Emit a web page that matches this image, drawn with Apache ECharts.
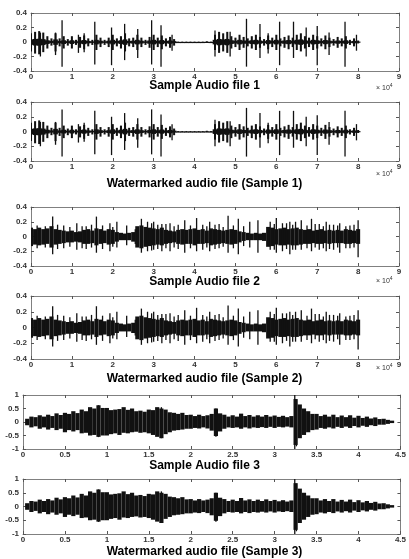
<!DOCTYPE html>
<html><head><meta charset="utf-8">
<script src="https://cdn.jsdelivr.net/npm/echarts@6/dist/echarts.min.js"></script>
<style>html,body{margin:0;padding:0;background:#fff}#c{width:409px;height:559px}</style>
</head><body><div id="c"></div>
<script>
// ---------- DATA ----------
const titles = ['Sample Audio file 1','Watermarked audio file (Sample 1)','Sample Audio file 2','Watermarked audio file (Sample 2)','Sample Audio file 3','Watermarked audio file (Sample 3)'];
const ticks1 = [-0.4,-0.2,0,0.2,0.4];
const xTicksA = [0,1,2,3,4,5,6,7,8,9];
const xTicksB = [0,0.5,1,1.5,2,2.5,3,3.5,4,4.5];
const ticks3 = [-1,-0.5,0,0.5,1];

// Sample 1 envelope, samples 0..8 (x10^4) every 0.1
const s1X0 = 0, s1Step = 0.1;
const s1Hi = [0.12,0.14,0.15,0.13,0.08,0.05,0.12,0.05,0.08,0.04,
 0.08,0.03,0.07,0.09,0.05,0.03,0.1,0.06,0.03,0.06,
 0.1,0.05,0.08,0.12,0.05,0.06,0.1,0.06,0.03,0.07,
 0.1,0.06,0.09,0.05,0.07,0.04,0.005,0.005,0.005,0.005,
 0.005,0.005,0.005,0.01,0.005,0.1,0.14,0.12,0.14,0.08,
 0.06,0.1,0.07,0.05,0.08,0.1,0.07,0.04,0.09,0.06,
 0.1,0.05,0.07,0.09,0.06,0.1,0.12,0.08,0.06,0.1,
 0.08,0.05,0.09,0.06,0.04,0.07,0.05,0.08,0.03,0.05,0.02];
const s1Lo = [-0.13,-0.16,-0.17,-0.14,-0.09,-0.05,-0.13,-0.06,-0.09,-0.05,
 -0.09,-0.04,-0.08,-0.1,-0.06,-0.04,-0.11,-0.07,-0.04,-0.07,
 -0.11,-0.06,-0.09,-0.13,-0.06,-0.07,-0.11,-0.07,-0.04,-0.08,
 -0.11,-0.07,-0.1,-0.06,-0.08,-0.05,-0.005,-0.005,-0.005,-0.005,
 -0.005,-0.005,-0.005,-0.01,-0.005,-0.11,-0.15,-0.13,-0.15,-0.09,
 -0.07,-0.11,-0.08,-0.06,-0.09,-0.11,-0.08,-0.05,-0.1,-0.07,
 -0.11,-0.06,-0.08,-0.1,-0.07,-0.11,-0.13,-0.09,-0.07,-0.11,
 -0.09,-0.06,-0.1,-0.07,-0.05,-0.08,-0.06,-0.09,-0.04,-0.06,-0.02];
const s1SpikeX  = [0.23,0.6,0.76,1.16,1.3,1.56,1.97,2.29,2.61,2.95,3.18,3.45,4.5,4.87,5.27,5.6,5.8,6.08,6.42,6.73,7.0,7.29,7.68,7.96];
const s1SpikeHi = [0.13,0.13,0.30,0.1,0.12,0.28,0.2,0.25,0.18,0.30,0.23,0.1,0.16,0.14,0.32,0.25,0.12,0.28,0.28,0.2,0.22,0.13,0.28,0.1];
const s1SpikeLo = [-0.2,-0.18,-0.34,-0.15,-0.14,-0.31,-0.32,-0.25,-0.22,-0.31,-0.34,-0.12,-0.2,-0.2,-0.34,-0.22,-0.16,-0.32,-0.22,-0.2,-0.32,-0.18,-0.34,-0.12];

// Sample 2 envelope, 0..8 every 0.1
const s2X0 = 0, s2Step = 0.1;
const s2Hi = [0.12,0.1,0.12,0.1,0.11,0.14,0.1,0.09,0.08,0.07,
 0.08,0.06,0.07,0.09,0.1,0.08,0.11,0.1,0.08,0.1,
 0.09,0.06,0.05,0.04,0.05,0.06,0.14,0.15,0.13,0.12,
 0.11,0.1,0.12,0.09,0.08,0.07,0.09,0.1,0.09,0.1,
 0.11,0.09,0.1,0.08,0.11,0.1,0.09,0.08,0.09,0.1,
 0.09,0.07,0.06,0.05,0.04,0.05,0.04,0.05,0.13,0.12,
 0.1,0.11,0.12,0.1,0.11,0.12,0.1,0.09,0.1,0.08,
 0.09,0.1,0.08,0.09,0.08,0.09,0.08,0.1,0.09,0.08,0.1];
const s2Lo = [-0.13,-0.11,-0.12,-0.11,-0.1,-0.15,-0.11,-0.1,-0.09,-0.08,
 -0.08,-0.07,-0.08,-0.1,-0.1,-0.09,-0.12,-0.1,-0.09,-0.11,
 -0.1,-0.07,-0.05,-0.05,-0.05,-0.07,-0.15,-0.16,-0.14,-0.13,
 -0.12,-0.11,-0.12,-0.1,-0.09,-0.08,-0.1,-0.11,-0.1,-0.1,
 -0.12,-0.1,-0.1,-0.09,-0.12,-0.11,-0.1,-0.09,-0.1,-0.11,
 -0.1,-0.08,-0.06,-0.05,-0.05,-0.05,-0.05,-0.06,-0.14,-0.13,
 -0.11,-0.12,-0.12,-0.11,-0.12,-0.12,-0.11,-0.1,-0.1,-0.09,
 -0.1,-0.1,-0.09,-0.1,-0.09,-0.09,-0.09,-0.1,-0.1,-0.09,-0.1];
const s2SpikeX  = [0.53,0.8,1.12,1.35,1.6,1.93,2.1,2.34,2.7,2.85,3.0,3.2,3.4,3.6,3.76,4.05,4.2,4.37,4.6,4.82,5.07,5.35,5.55,5.85,6.0,6.15,6.33,6.47,6.61,6.86,7.05,7.22,7.4,7.55,7.8,8.0,
 0.15,0.35,0.65,0.95,1.25,1.48,1.75,2.0,2.55,2.95,3.1,3.3,3.5,3.9,4.3,4.5,4.7,4.95,5.2,5.95,6.25,6.4,6.75,6.95,7.15,7.3,7.5,7.7,7.9];
const s2SpikeHi = [0.27,0.15,0.18,0.14,0.27,0.18,0.2,0.15,0.24,0.2,0.2,0.17,0.18,0.16,0.22,0.25,0.16,0.2,0.17,0.28,0.24,0.2,0.22,0.2,0.25,0.18,0.2,0.2,0.22,0.24,0.17,0.2,0.16,0.18,0.15,0.22,
 0.15,0.14,0.16,0.13,0.14,0.16,0.15,0.13,0.1,0.18,0.16,0.17,0.14,0.15,0.14,0.16,0.13,0.15,0.14,0.17,0.18,0.16,0.15,0.17,0.14,0.16,0.15,0.14,0.16];
const s2SpikeLo = [-0.24,-0.16,-0.18,-0.17,-0.22,-0.2,-0.15,-0.12,-0.22,-0.2,-0.18,-0.2,-0.2,-0.17,-0.22,-0.2,-0.18,-0.2,-0.16,-0.22,-0.24,-0.15,-0.22,-0.18,-0.22,-0.2,-0.24,-0.18,-0.18,-0.2,-0.18,-0.2,-0.18,-0.22,-0.16,-0.28,
 -0.16,-0.15,-0.17,-0.14,-0.16,-0.15,-0.17,-0.14,-0.1,-0.19,-0.17,-0.16,-0.15,-0.16,-0.15,-0.17,-0.14,-0.16,-0.13,-0.18,-0.17,-0.18,-0.16,-0.15,-0.16,-0.17,-0.15,-0.16,-0.15];

// Sample 3 envelope, 0.05..4.40 every 0.05
const s3X0 = 0.05, s3Step = 0.05;
const s3Hi = [0.12,0.2,0.18,0.25,0.2,0.27,0.22,0.32,0.26,0.34,
 0.3,0.4,0.33,0.46,0.4,0.55,0.5,0.62,0.52,0.52,
 0.44,0.46,0.48,0.55,0.45,0.5,0.4,0.42,0.38,0.46,
 0.44,0.55,0.5,0.46,0.36,0.34,0.3,0.34,0.26,0.27,
 0.22,0.27,0.22,0.25,0.3,0.5,0.32,0.27,0.2,0.25,
 0.2,0.31,0.22,0.26,0.2,0.25,0.2,0.26,0.2,0.24,
 0.19,0.23,0.18,0.22,0.85,0.65,0.5,0.4,0.3,0.3,
 0.22,0.27,0.2,0.27,0.18,0.24,0.18,0.25,0.16,0.23,
 0.15,0.2,0.13,0.17,0.11,0.12,0.08,0.05];
const s3Lo = [-0.12,-0.2,-0.16,-0.25,-0.2,-0.28,-0.22,-0.3,-0.25,-0.38,
 -0.3,-0.35,-0.3,-0.42,-0.4,-0.5,-0.48,-0.55,-0.5,-0.5,
 -0.45,-0.42,-0.48,-0.4,-0.42,-0.38,-0.36,-0.4,-0.38,-0.42,
 -0.48,-0.55,-0.6,-0.45,-0.38,-0.32,-0.3,-0.28,-0.25,-0.25,
 -0.22,-0.24,-0.2,-0.24,-0.32,-0.52,-0.35,-0.25,-0.2,-0.22,
 -0.2,-0.25,-0.2,-0.24,-0.2,-0.22,-0.19,-0.22,-0.18,-0.22,
 -0.18,-0.2,-0.17,-0.2,-0.85,-0.6,-0.48,-0.38,-0.3,-0.28,
 -0.22,-0.25,-0.2,-0.24,-0.18,-0.22,-0.17,-0.22,-0.15,-0.2,
 -0.14,-0.18,-0.12,-0.15,-0.1,-0.1,-0.07,-0.04];
const s3SpikeX  = [0.9,1.65,2.3,3.24,3.26];
const s3SpikeHi = [0.62,0.55,0.5,1.0,0.8];
const s3SpikeLo = [-0.56,-0.6,-0.55,-1.0,-0.9];

// ---------- BUILD ----------
const signals = {
  s1:{x0:s1X0,step:s1Step,hi:s1Hi,lo:s1Lo,sx:s1SpikeX,sh:s1SpikeHi,sl:s1SpikeLo},
  s2:{x0:s2X0,step:s2Step,hi:s2Hi,lo:s2Lo,sx:s2SpikeX,sh:s2SpikeHi,sl:s2SpikeLo},
  s3:{x0:s3X0,step:s3Step,hi:s3Hi,lo:s3Lo,sx:s3SpikeX,sh:s3SpikeHi,sl:s3SpikeLo}
};
const layout = [
  {sig:'s1',left:31,right:10,top:13,height:58,xt:xTicksA,yt:ticks1,ty:87,mult:88,ratio:0.5,core:0.3},
  {sig:'s1',left:31,right:10,top:102,height:59,xt:xTicksA,yt:ticks1,ty:185,mult:174,ratio:0.5,core:0.3},
  {sig:'s2',left:31,right:10,top:207,height:59,xt:xTicksA,yt:ticks1,ty:283,mult:281,ratio:1,core:0},
  {sig:'s2',left:31,right:10,top:296,height:63,xt:xTicksA,yt:ticks1,ty:380,mult:368,ratio:1,core:0},
  {sig:'s3',left:23,right:7,top:395,height:54,xt:xTicksB,yt:ticks3,ty:467,mult:null,ratio:1,core:0},
  {sig:'s3',left:23,right:7,top:479,height:55,xt:xTicksB,yt:ticks3,ty:553,mult:null,ratio:1,core:0}
];
const FONT = 'Liberation Sans, Arial, sans-serif';
const grid=[], xAxis=[], yAxis=[], series=[], graphic=[];
const frame = {show:true, onZero:false, lineStyle:{color:'#808080',width:1}};
const tick = {show:true, inside:true, length:3, lineStyle:{color:'#555'}};
layout.forEach((p,i)=>{
  grid.push({left:p.left,right:p.right,top:p.top,height:p.height});
  const xt=p.xt, yt=p.yt;
  const xint = xt[1]-xt[0], yint = yt[1]-yt[0];
  const lab = {fontSize:8,color:'#333',fontFamily:FONT,fontWeight:'bold'};
  xAxis.push({type:'value',gridIndex:i,min:xt[0],max:xt[xt.length-1],interval:xint,position:'bottom',
    axisLine:frame,axisTick:tick,splitLine:{show:false},axisLabel:Object.assign({margin:2,showMaxLabel:true,showMinLabel:true},lab)});
  xAxis.push({type:'value',gridIndex:i,min:xt[0],max:xt[xt.length-1],interval:xint,position:'top',
    axisLine:frame,axisTick:tick,splitLine:{show:false},axisLabel:{show:false}});
  yAxis.push({type:'value',gridIndex:i,min:yt[0],max:yt[yt.length-1],interval:yint,position:'left',
    axisLine:frame,axisTick:tick,splitLine:{show:false},axisLabel:Object.assign({margin:4},lab)});
  yAxis.push({type:'value',gridIndex:i,min:yt[0],max:yt[yt.length-1],interval:yint,position:'right',
    axisLine:frame,axisTick:tick,splitLine:{show:false},axisLabel:{show:false}});
  const s = signals[p.sig];
  const body = s.hi.map((h,k)=>[s.x0+k*s.step, s.lo[k], h]);
  const spikes = s.sx.map((x,k)=>[x, s.sl[k], s.sh[k]]);
  const step=s.step, ratio=p.ratio, core=p.core;
  series.push({type:'custom',xAxisIndex:2*i,yAxisIndex:2*i,data:body,clip:true,silent:true,
    encode:{x:0,y:[1,2]},
    renderItem:function(params,api){
      const x=api.value(0), lo=api.value(1), hi=api.value(2);
      const a=api.coord([x,hi]), b=api.coord([x,lo]);
      const full=api.size([step,0])[0];
      const w=Math.max(1, full*ratio);
      const children=[{type:'rect',shape:{x:a[0]-w/2,y:a[1],width:w,height:Math.max(1,b[1]-a[1])},style:{fill:'#111'}}];
      if(core>0){
        const ca=api.coord([x,hi*core]), cb=api.coord([x,lo*core]);
        children.push({type:'rect',shape:{x:a[0]-full/2-0.3,y:ca[1],width:full+0.6,height:Math.max(1.2,cb[1]-ca[1])},style:{fill:'#111'}});
      }
      return {type:'group',children};
    }});
  series.push({type:'custom',xAxisIndex:2*i,yAxisIndex:2*i,data:spikes,clip:true,silent:true,
    encode:{x:0,y:[1,2]},
    renderItem:function(params,api){
      const x=api.value(0), lo=api.value(1), hi=api.value(2);
      const a=api.coord([x,hi]), b=api.coord([x,lo]);
      return {type:'line',shape:{x1:a[0],y1:a[1],x2:b[0],y2:b[1]},style:{stroke:'#111',lineWidth:1.3}};
    }});
  graphic.push({type:'text',left:'center',top:p.ty-7,style:{text:titles[i],font:'bold 12px '+FONT,fill:'#000'}});
  if(p.mult!==null){
    graphic.push({type:'text',x:376,y:p.mult-5,style:{text:'{a|\u00d7 10}{b|4}',fill:'#333',
      rich:{a:{fontSize:7,fontFamily:FONT,fill:'#333'},b:{fontSize:5,fontFamily:FONT,fill:'#333',verticalAlign:'top',padding:[0,0,5,0]}}}});
  }
});
const chart = echarts.init(document.getElementById('c'),null,{renderer:'canvas'});
chart.setOption({animation:false,backgroundColor:'#fff',grid,xAxis,yAxis,series,graphic});
</script>
</body></html>
